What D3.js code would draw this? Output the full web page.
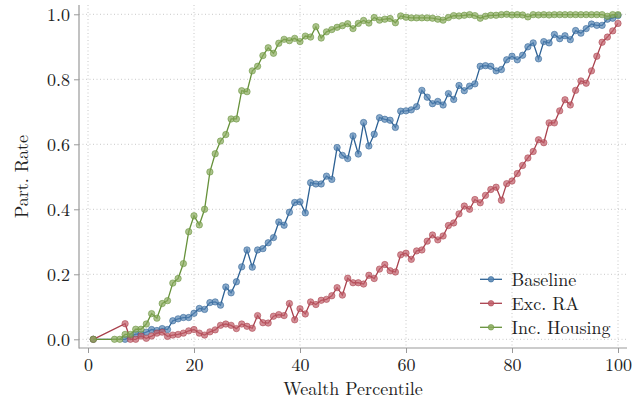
<!DOCTYPE html>
<html><head><meta charset="utf-8">
<script src="https://cdn.jsdelivr.net/npm/d3@7"></script>
<style>
html,body{margin:0;padding:0;background:#fff;}
svg{display:block;}
</style></head>
<body>
<svg id="chart" width="642" height="401"></svg>
<script>
// ---- data ----
const seriesNames = ["Baseline", "Exc. RA", "Inc. Housing"];
const xTicks = [0, 20, 40, 60, 80, 100];
const yTicks = [0, 0.2, 0.4, 0.6, 0.8, 1.0];

const baselineX = [1].concat(d3.range(7, 101));
const baselineY = [0,
  0, 0.008, 0.016, 0.016, 0.022, 0.03, 0.027, 0.033, 0.03, 0.057,
  0.063, 0.067, 0.067, 0.08, 0.095, 0.092, 0.113, 0.115, 0.105, 0.161,
  0.143, 0.177, 0.223, 0.275, 0.222, 0.275, 0.279, 0.297, 0.313, 0.361,
  0.351, 0.391, 0.421, 0.423, 0.389, 0.482, 0.478, 0.478, 0.502, 0.492,
  0.59, 0.566, 0.556, 0.626, 0.57, 0.667, 0.595, 0.631, 0.682, 0.677,
  0.674, 0.652, 0.702, 0.703, 0.706, 0.716, 0.766, 0.745, 0.725, 0.732,
  0.721, 0.756, 0.738, 0.781, 0.765, 0.779, 0.786, 0.84, 0.842, 0.84,
  0.826, 0.83, 0.86, 0.871, 0.86, 0.874, 0.90, 0.912, 0.863, 0.916,
  0.912, 0.938, 0.925, 0.934, 0.922, 0.95, 0.942, 0.956, 0.97, 0.966,
  0.966, 0.985, 0.988, 0.996];

const excRAX = [1].concat(d3.range(7, 101));
const excRAY = [0,
  0.048, 0, 0, 0.01, 0.003, 0.01, 0.019, 0.022, 0.009, 0.013,
  0.015, 0.019, 0.026, 0.03, 0.019, 0.013, 0.023, 0.029, 0.043, 0.047,
  0.043, 0.033, 0.047, 0.04, 0.034, 0.073, 0.051, 0.05, 0.071, 0.076,
  0.073, 0.11, 0.06, 0.094, 0.078, 0.115, 0.107, 0.12, 0.123, 0.134,
  0.159, 0.136, 0.188, 0.174, 0.174, 0.17, 0.197, 0.187, 0.216, 0.23,
  0.211, 0.207, 0.26, 0.265, 0.246, 0.272, 0.275, 0.302, 0.321, 0.306,
  0.318, 0.35, 0.358, 0.386, 0.41, 0.40, 0.43, 0.42, 0.443, 0.461,
  0.468, 0.428, 0.479, 0.487, 0.51, 0.535, 0.558, 0.578, 0.614, 0.605,
  0.666, 0.666, 0.703, 0.737, 0.721, 0.766, 0.795, 0.788, 0.826, 0.871,
  0.914, 0.93, 0.949, 0.972];

const housingX = [1].concat(d3.range(5, 101));
const housingY = [0,
  0, 0, 0.015, 0.015, 0.031, 0.031, 0.047, 0.079, 0.065, 0.11,
  0.119, 0.173, 0.187, 0.233, 0.331, 0.38, 0.352, 0.40, 0.515, 0.571,
  0.61, 0.63, 0.678, 0.678, 0.765, 0.762, 0.826, 0.84, 0.873, 0.897,
  0.88, 0.911, 0.923, 0.919, 0.926, 0.916, 0.933, 0.93, 0.962, 0.927,
  0.946, 0.953, 0.96, 0.965, 0.971, 0.956, 0.972, 0.981, 0.973, 0.99,
  0.982, 0.985, 0.987, 0.974, 0.995, 0.991, 0.989, 0.989, 0.989, 0.989,
  0.988, 0.985, 0.982, 0.99, 0.996, 0.995, 0.997, 0.999, 0.996, 0.988,
  0.994, 0.997, 0.997, 0.999, 1.0, 0.998, 0.999, 0.998, 0.992, 0.999,
  0.998, 0.999, 0.998, 0.999, 0.999, 0.999, 0.999, 0.999, 0.999, 0.999,
  0.999, 0.999, 0.999, 0.994, 0.999, 0.999];

const lineColors = ["#2d6194", "#a9414d", "#66913a"];
const markerColors = ["#5585b3", "#c15e69", "#89aa5c"];

// ---- layout ----
const FONT = "'Latin Modern Roman'";
const svg = d3.select("#chart");
const plotL = 79, plotR = 627, plotT = 5, plotB = 348;
const x = d3.scaleLinear().domain([0, 100]).range([88, 618]);
const y = d3.scaleLinear().domain([0, 1]).range([339.3, 14.3]);

function styleText(sel) {
  sel.attr("font-family", null).attr("font-size", null)
    .style("font-family", FONT).style("font-size", "18px").attr("fill", "#222");
}

// grid
const grid = svg.append("g");
grid.selectAll("line.v").data(xTicks).enter().append("line").attr("class", "v")
  .attr("x1", d => x(d)).attr("x2", d => x(d)).attr("y1", plotT).attr("y2", plotB)
  .attr("stroke", "#c8c8c8").attr("stroke-width", 1).attr("stroke-dasharray", "1,2.5");
grid.selectAll("line.h").data(yTicks).enter().append("line").attr("class", "h")
  .attr("y1", d => y(d)).attr("y2", d => y(d)).attr("x1", plotL).attr("x2", plotR)
  .attr("stroke", "#c8c8c8").attr("stroke-width", 1).attr("stroke-dasharray", "1,2.5");

// axes
const xAxis = d3.axisBottom(x).tickValues(xTicks).tickSize(5).tickPadding(5).tickFormat(d3.format("d"));
const yAxis = d3.axisLeft(y).tickValues(yTicks).tickSize(5).tickPadding(4).tickFormat(d3.format(".1f"));
const gx = svg.append("g").attr("transform", `translate(0,${plotB})`).call(xAxis);
const gy = svg.append("g").attr("transform", `translate(${plotL},0)`).call(yAxis);
[gx, gy].forEach(g => {
  g.attr("font-family", null).attr("font-size", null);
  g.select(".domain").remove();
  g.selectAll(".tick line").attr("stroke", "#999");
  styleText(g.selectAll(".tick text"));
});
svg.append("line").attr("x1", plotL).attr("x2", plotL).attr("y1", plotT).attr("y2", plotB + 0.5)
  .attr("stroke", "#999").attr("stroke-width", 1.2);
svg.append("line").attr("x1", plotL).attr("x2", plotR).attr("y1", plotB).attr("y2", plotB)
  .attr("stroke", "#999").attr("stroke-width", 1.2);

// labels
styleText(svg.append("text").attr("x", (plotL + plotR) / 2).attr("y", 395).attr("text-anchor", "middle")
  .text("Wealth Percentile"));
styleText(svg.append("text").attr("transform", `translate(28,${(plotT + plotB) / 2}) rotate(-90)`)
  .attr("text-anchor", "middle").text("Part. Rate"));

// series
const series = [
  {xs: baselineX, ys: baselineY},
  {xs: excRAX, ys: excRAY},
  {xs: housingX, ys: housingY}
];
const line = d3.line().x(d => x(d[0])).y(d => y(d[1]));
series.forEach((s, i) => {
  const pts = s.xs.map((v, j) => [v, s.ys[j]]);
  const g = svg.append("g");
  g.append("path").datum(pts).attr("d", line).attr("fill", "none")
    .attr("stroke", lineColors[i]).attr("stroke-width", 1.3);
  g.selectAll("circle").data(pts).enter().append("circle")
    .attr("cx", d => x(d[0])).attr("cy", d => y(d[1])).attr("r", 3.2)
    .attr("fill", markerColors[i]).attr("fill-opacity", 0.7)
    .attr("stroke", lineColors[i]).attr("stroke-opacity", 0.55).attr("stroke-width", 1);
});

// legend
const leg = svg.append("g");
seriesNames.forEach((name, i) => {
  const cy = 279.3 + i * 24;
  leg.append("line").attr("x1", 480).attr("x2", 502).attr("y1", cy).attr("y2", cy)
    .attr("stroke", lineColors[i]).attr("stroke-width", 1.3);
  leg.append("circle").attr("cx", 491).attr("cy", cy).attr("r", 2.8)
    .attr("fill", markerColors[i]).attr("fill-opacity", 0.85)
    .attr("stroke", lineColors[i]).attr("stroke-opacity", 0.55);
  styleText(leg.append("text").attr("x", 511.5).attr("y", cy + 6.5).text(name));
});
</script>
</body></html>
